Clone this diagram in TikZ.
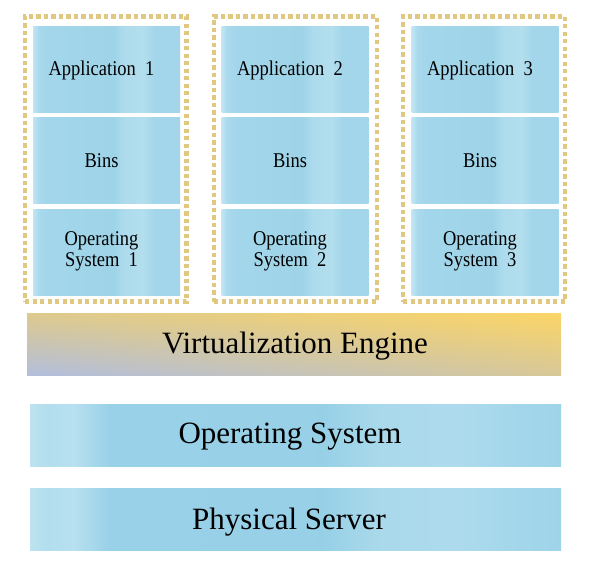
\documentclass[tikz,border=0pt]{standalone}
\usepackage{fontspec}
\usetikzlibrary{shadings}
\setmainfont{Liberation Serif}
\newfontfamily\narrowserif[FakeStretch=0.88]{Liberation Serif}
\pgfdeclarehorizontalshading{watertop}{100bp}{%
rgb(0bp)=(0.76,0.90,0.95);
rgb(25bp)=(0.76,0.90,0.95);
rgb(27bp)=(0.66,0.85,0.93);
rgb(30bp)=(0.64,0.84,0.92);
rgb(52.5bp)=(0.62,0.83,0.91);
rgb(56bp)=(0.68,0.86,0.93);
rgb(62.5bp)=(0.70,0.87,0.93);
rgb(66bp)=(0.64,0.84,0.92);
rgb(75bp)=(0.64,0.84,0.92);
rgb(100bp)=(0.64,0.84,0.92)}
\pgfdeclarehorizontalshading{waterbar}{100bp}{%
rgb(0bp)=(0.74,0.89,0.94);
rgb(25bp)=(0.74,0.89,0.94);
rgb(26.5bp)=(0.70,0.87,0.93);
rgb(29bp)=(0.72,0.88,0.94);
rgb(32.5bp)=(0.60,0.82,0.91);
rgb(52.5bp)=(0.59,0.815,0.905);
rgb(57.5bp)=(0.66,0.85,0.92);
rgb(65bp)=(0.68,0.86,0.93);
rgb(71bp)=(0.64,0.84,0.92);
rgb(75bp)=(0.62,0.83,0.915);
rgb(100bp)=(0.62,0.83,0.915)}
\definecolor{frameC}{RGB}{224,200,128}
\definecolor{veUL}{RGB}{222,202,142}
\definecolor{veUR}{RGB}{251,213,102}
\definecolor{veLL}{RGB}{178,190,220}
\definecolor{veLR}{RGB}{216,200,152}
\tikzset{
  cell/.style={draw=none, shading=watertop, minimum width=147pt, minimum height=86pt, inner sep=0pt},
  bar/.style={draw=none, shading=waterbar, minimum width=531pt, minimum height=62pt, inner sep=0pt},
  frm/.style={draw=frameC, line width=4.4pt, dash pattern=on 4.2pt off 3.3pt},
  small/.style={font=\narrowserif\fontsize{21}{21}\selectfont, align=center, inner sep=0pt},
  big/.style={font=\fontsize{31}{32}\selectfont, inner sep=0pt, anchor=base},
}
\begin{document}
\begin{tikzpicture}[x=1pt,y=-1pt]
\useasboundingbox (0,0) rectangle (591,580);
\fill[white] (0,0) rectangle (591,580);
% columns
\foreach \i/\cx/\fl/\fr in {1/106.5/25/186.5, 2/295/214/377, 3/485/403/565}{
  \node[cell] (app\i) at (\cx,70) {};
  \node[cell] (bins\i) at (\cx,160.5) {};
  \node[cell] (os\i) at (\cx,252) {};
  \node[frm, fill=none, minimum width={\fr-\fl}, minimum height=285pt, inner sep=0pt] (frame\i) at ({(\fl+\fr)/2},159) {};
  \node[small] (appt\i) at ([xshift=-5pt]app\i.center) {Application~~\i};
  \node[small] (binst\i) at ([xshift=-5pt]bins\i.center) {Bins};
  \node[small] (ost\i) at ([xshift=-5pt,yshift=1pt]os\i.center) {Operating\\System~~\i};
}
% virtualization engine
\node[draw=none, minimum width=534pt, minimum height=62pt, inner sep=0pt,
  upper left=veUL, upper right=veUR, lower left=veLL, lower right=veLR] (ve) at (294,344) {};
\node[big] (vet) at (295,353) {Virtualization~Engine};
% operating system
\node[bar] (hos) at (295.5,435) {};
\node[big] (host) at (290,443) {Operating System};
% physical server
\node[bar] (ps) at (295.5,519.5) {};
\node[big] (pst) at (289,529) {Physical Server};
\end{tikzpicture}
\end{document}
